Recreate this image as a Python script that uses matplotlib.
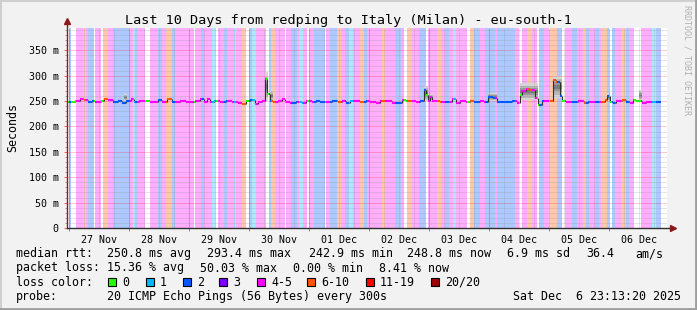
import numpy as np
import matplotlib
matplotlib.use("Agg")
import matplotlib.pyplot as plt
from matplotlib.collections import LineCollection
from matplotlib.patches import Rectangle

W, H = 697, 310
MONO = "DejaVu Sans Mono"

STEP_H = 0.4            # one graph column = 24 min
FIRST_MIDNIGHT_H = 0.7778  # 27 Nov 00:00 after start 26 Nov 23:13:20

day_labels = ["27 Nov", "28 Nov", "29 Nov", "30 Nov", "01 Dec",
              "02 Dec", "03 Dec", "04 Dec", "05 Dec", "06 Dec"]

loss_names = ["0", "1", "2", "3", "4-5", "6-10", "11-19", "20/20"]
loss_colors = ["#26ff00", "#00b8ff", "#0059ff", "#7e00ff",
               "#ff00ff", "#ff5500", "#ff0000", "#a10000"]

# loss category per run of columns (index into loss_names), run end in steps
band_end = [2, 4, 9, 16, 19, 21, 27, 28, 34, 36,
            41, 46, 63, 66, 68, 70, 78, 83, 91, 95,
            99, 105, 108, 127, 128, 134, 137, 145, 148, 149,
            151, 157, 160, 167, 169, 175, 179, 182, 185, 189,
            199, 202, 204, 208, 218, 219, 224, 230, 232, 236,
            240, 242, 247, 258, 259, 263, 270, 274, 278, 282,
            286, 293, 297, 300, 315, 318, 328, 334, 337, 340,
            345, 352, 359, 361, 370, 374, 378, 382, 386, 389,
            400, 403, 407, 413, 418, 428, 430, 448, 452, 455,
            460, 465, 470, 472, 477, 482, 483, 490, 495, 498,
            505, 510, 516, 519, 522, 528, 532, 534, 540, 542,
            545, 548, 554, 559, 562, 567, 574, 585, 589, 594]
band_cat = [0, 2, 0, 4, 5, 4, 2, 0, 4, 0,
            5, 4, 2, 4, 1, 2, 4, 0, 4, 2,
            4, 5, 2, 4, 0, 4, 2, 4, 1, 4,
            0, 4, 2, 4, 1, 4, 5, 0, 2, 1,
            4, 0, 2, 5, 4, 0, 4, 2, 4, 1,
            4, 0, 4, 2, 0, 4, 2, 5, 4, 2,
            1, 4, 5, 2, 4, 5, 4, 2, 4, 0,
            5, 4, 2, 0, 4, 5, 4, 2, 4, 1,
            4, 0, 5, 2, 4, 2, 4, 2, 4, 0,
            4, 5, 4, 0, 2, 4, 0, 5, 2, 0,
            4, 2, 4, 5, 2, 4, 2, 4, 5, 2,
            0, 2, 4, 5, 2, 4, 0, 4, 1, 2]

# median rtt (ms), run end in steps
median_end = [8, 13, 17, 21, 25, 28, 34, 37, 41, 46, 51, 55, 59, 64, 67, 72,
              78, 83, 91, 95, 100, 105, 113, 119, 128, 133, 137, 140, 143, 147,
              153, 159, 165, 171, 175, 179, 183, 188, 191, 195, 198, 200, 203,
              206, 211, 215, 218, 223, 229, 235, 239, 245, 249, 253, 259, 265,
              271, 275, 279, 283, 289, 293, 299, 303, 309, 313, 319, 325, 329,
              335, 339, 343, 349, 353, 357, 359, 361, 363, 365, 373, 379, 385,
              389, 393, 399, 403, 407, 413, 417, 421, 426, 430, 437, 445, 450,
              453, 455, 459, 463, 468, 471, 475, 479, 483, 486, 489, 493, 495,
              499, 505, 511, 517, 521, 527, 533, 538, 540, 543, 546, 549, 555,
              559, 563, 566, 569, 575, 579, 585, 594]
median_ms = [249, 251, 254, 252, 249, 251, 248, 251, 254, 252, 248, 251, 247, 250, 255, 248,
             251, 250, 249, 253, 249, 254, 249, 250, 248, 250, 254, 248, 255, 249,
             250, 248, 250, 249, 247, 244, 250, 252, 245, 248, 250, 293, 264,
             250, 249, 251, 255, 249, 247, 249, 247, 250, 248, 251, 249, 248,
             250, 249, 251, 247, 250, 250, 249, 251, 249, 247, 250, 251, 247,
             246, 252, 251, 250, 249, 250, 272, 262, 250, 258, 250, 249, 248,
             254, 247, 250, 249, 250, 248, 250, 249, 259, 256, 248, 248, 250,
             246, 262, 270, 274, 272, 257, 243, 251, 250, 251, 292, 288, 260,
             250, 249, 248, 250, 247, 248, 249, 248, 252, 261, 248, 246, 250,
             253, 249, 247, 252, 250, 246, 249, 248]

# smoke (ping spread) around the larger excursions
smoke_from = [57, 198, 203, 357, 361, 421, 453, 487, 540, 572]
smoke_to = [60, 201, 206, 361, 366, 430, 471, 495, 543, 575]
smoke_lo = [250, 250, 250, 250, 250, 250, 252, 256, 250, 250]
smoke_hi = [264, 307, 270, 280, 264, 266, 285, 300, 265, 272]

median_rtt = ["250.8 ms avg", "293.4 ms max", "242.9 ms min",
              "248.8 ms now", "6.9 ms sd", "36.4", "am/s"]
packet_loss = ["15.36 % avg", "50.03 % max", "0.00 % min", "8.41 % now"]


def fx(x):
    return x / W


def fy(y):
    return 1 - y / H


fig = plt.figure(figsize=(W / 100, H / 100), dpi=100, facecolor="#f2f2f2")

# rrdtool-style frame
fig.add_artist(plt.Line2D([0, 1], [fy(1), fy(1)], color="#cfcfcf", lw=1.5))
fig.add_artist(plt.Line2D([fx(1), fx(1)], [0, 1], color="#cfcfcf", lw=1.5))
fig.add_artist(plt.Line2D([0, 1], [fy(309), fy(309)], color="#9e9e9e", lw=2))
fig.add_artist(plt.Line2D([fx(696), fx(696)], [0, 1], color="#9e9e9e", lw=2))

ax = fig.add_axes([fx(67), fy(228), 600 / W, 200 / H])
ax.set_facecolor("white")
ax.set_xlim(0, 240)
ax.set_ylim(0, 394)

# loss background bands
starts = [0] + band_end[:-1]
for s, e, c in zip(starts, band_end, band_cat):
    if c == 0:
        continue
    ax.axvspan(s * STEP_H, e * STEP_H, color=loss_colors[c], alpha=0.32, lw=0, zorder=1)

# smoke, a few grey layers getting darker towards the middle
for s, e, lo, hi in zip(smoke_from, smoke_to, smoke_lo, smoke_hi):
    t = [s * STEP_H, e * STEP_H]
    mid = (lo + hi) / 2
    half = (hi - lo) / 2
    for frac, col in [(1.0, "#d6d6d6"), (0.7, "#b8b8b8"), (0.4, "#999999"), (0.15, "#7a7a7a")]:
        ax.fill_between(t, mid - half * frac, mid + half * frac, color=col, lw=0, zorder=2)

# grid on top of bands
gx_minor = np.arange(FIRST_MIDNIGHT_H, 240, 6)
gx_major = np.arange(FIRST_MIDNIGHT_H, 240, 24)
for x in gx_minor:
    ax.axvline(x, color="#909090", alpha=0.45, lw=0.72, ls=(0, (1, 1)), zorder=3)
for x in gx_major:
    ax.axvline(x, color="#ff0000", alpha=0.4, lw=0.72, ls=(0, (1, 1)), zorder=3)
for y in range(10, 394, 10):
    if y % 50:
        ax.axhline(y, color="#909090", alpha=0.45, lw=0.72, ls=(0, (1, 1)), zorder=3)
for y in range(50, 394, 50):
    ax.axhline(y, color="#ff0000", alpha=0.4, lw=0.72, ls=(0, (1, 1)), zorder=3)

# median line, coloured by loss
n = band_end[-1]
cat_step = np.repeat(band_cat, np.diff([0] + band_end))
med_step = np.repeat(median_ms, np.diff([0] + median_end))[:n]
t0 = np.arange(n) * STEP_H
t1 = t0 + STEP_H
vert = [[(t1[i], med_step[i]), (t1[i], med_step[i + 1])]
        for i in range(n - 1) if med_step[i] != med_step[i + 1]]
ax.add_collection(LineCollection(vert, colors="#303030", linewidths=0.8, zorder=4))
horiz = [[(t0[i], med_step[i]), (t1[i], med_step[i])] for i in range(n)]
cols = [loss_colors[c] for c in cat_step]
ax.add_collection(LineCollection(horiz, colors=cols, linewidths=1.5,
                                 capstyle="butt", zorder=5))

# axes / ticks
for sp in ax.spines.values():
    sp.set_visible(False)
ax.plot([0, 0], [0, 1.03], transform=ax.transAxes, color="#8b2020", lw=1,
        clip_on=False, zorder=6)
ax.plot([0, 1.01], [0, 0], transform=ax.transAxes, color="#303030", lw=1,
        clip_on=False, zorder=6)
ax.plot([0], [1.035], marker="^", ms=4.5, color="#8b1a1a", transform=ax.transAxes,
        clip_on=False, zorder=7)
ax.plot([1.01], [0], marker=">", ms=4.5, color="#8b1a1a", transform=ax.transAxes,
        clip_on=False, zorder=7)

yt = list(range(0, 351, 50))
ax.set_yticks(yt)
ax.set_yticklabels(["0" if v == 0 else f"{v} m" for v in yt], fontsize=7.2, family=MONO)
ax.set_yticks(range(0, 394, 10), minor=True)
ax.tick_params(axis="y", which="major", length=2.5, width=0.7, color="#ff6060", pad=3.5)
ax.tick_params(axis="y", which="minor", length=1.5, width=0.7, color="#a0a0a0")

noons = gx_major + 12
ax.set_xticks(noons)
ax.set_xticklabels(day_labels, fontsize=7.2, family=MONO)
ax.set_xticks(gx_major, minor=True)
ax.tick_params(axis="x", which="major", length=0, pad=5)
ax.tick_params(axis="x", which="minor", length=2.5, width=0.7, color="#ff6060")

# texts
fig.text(fx(348), fy(24), "Last 10 Days from redping to Italy (Milan) - eu-south-1",
         ha="center", va="baseline", fontsize=9.7, family=MONO)
fig.text(fx(13), fy(128), "Seconds", rotation=90, ha="center", va="center",
         fontsize=8.4, family=MONO)
fig.text(fx(687), fy(5), "RRDTOOL / TOBI OETIKER", rotation=-90, ha="center", va="top",
         fontsize=6, family=MONO, color="#b0b0b0")

LEG = dict(fontsize=8.4, family=MONO, va="baseline", ha="left")
rows_y = [257.3, 271.5, 285.7, 299.9]

fig.text(fx(16), fy(rows_y[0]), "median rtt:", **LEG)
for x, s in zip([107, 207, 309, 407, 507, 586, 635], median_rtt):
    fig.text(fx(x), fy(rows_y[0]), s, **LEG)

fig.text(fx(16), fy(rows_y[1]), "packet loss:", **LEG)
for x, s in zip([107, 200, 293, 379], packet_loss):
    fig.text(fx(x), fy(rows_y[1]), s, **LEG)

fig.text(fx(16), fy(rows_y[2]), "loss color:", **LEG)
box_x = [108, 146, 183, 219, 257, 307, 366, 431]
for x, name, col in zip(box_x, loss_names, loss_colors):
    fig.add_artist(Rectangle((fx(x), fy(286)), 8 / W, 8 / H, transform=fig.transFigure,
                             facecolor=col, edgecolor="black", lw=0.8))
    fig.text(fx(x + 14), fy(rows_y[2]), name, **LEG)

fig.text(fx(16), fy(rows_y[3]), "probe:", **LEG)
fig.text(fx(107), fy(rows_y[3]), "20 ICMP Echo Pings (56 Bytes) every 300s", **LEG)
fig.text(fx(681), fy(rows_y[3]), "Sat Dec  6 23:13:20 2025",
         fontsize=8.4, family=MONO, va="baseline", ha="right")

fig.savefig("out.png", dpi=100, facecolor=fig.get_facecolor())
